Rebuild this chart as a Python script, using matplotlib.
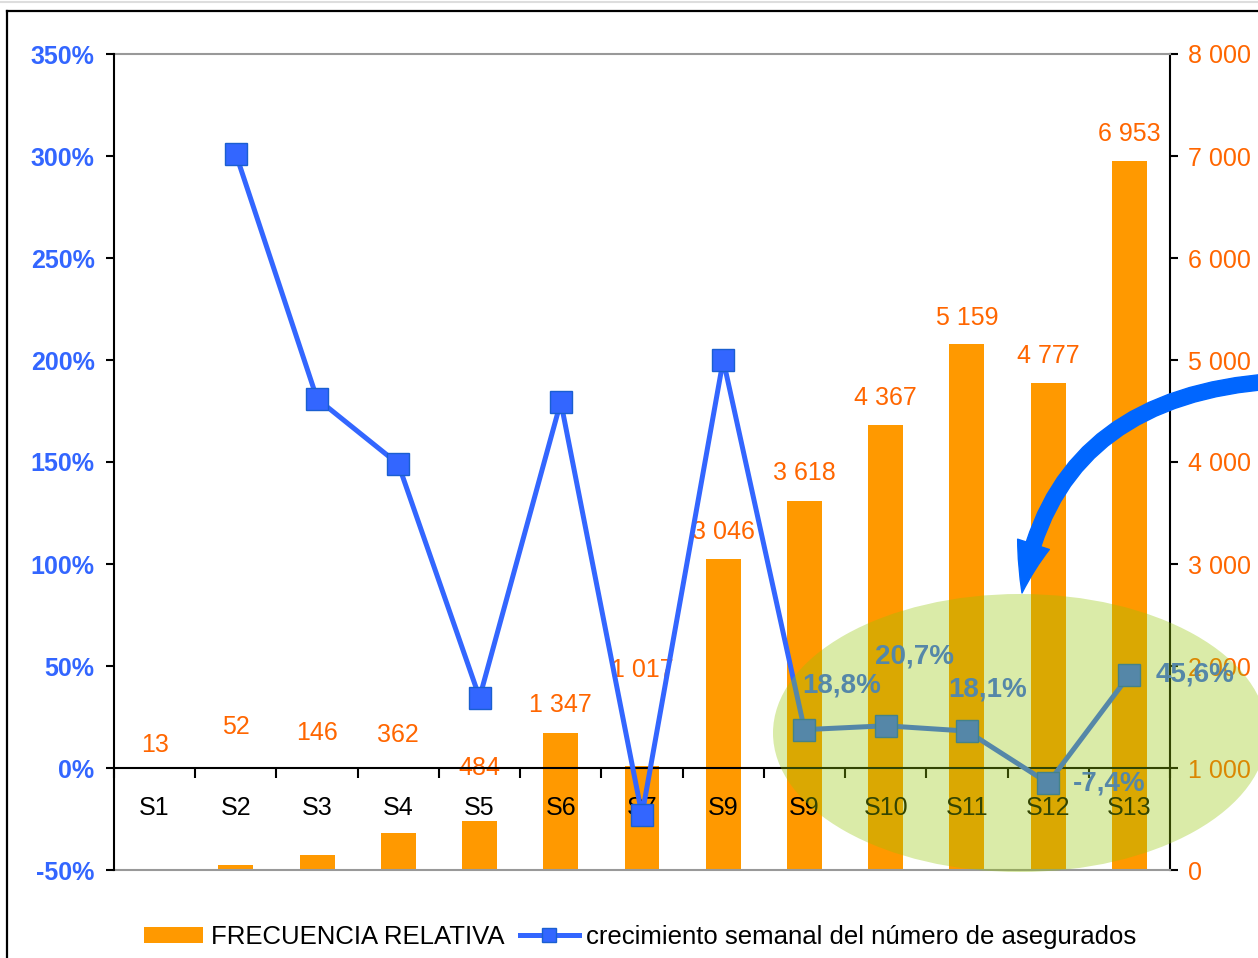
import numpy as np
import matplotlib
matplotlib.use("Agg")
import matplotlib.pyplot as plt
from matplotlib.patches import Ellipse, FancyArrowPatch, Patch
from matplotlib.lines import Line2D
from matplotlib.path import Path
from matplotlib.ticker import FuncFormatter, FixedLocator

plt.rcParams['font.family'] = ['Liberation Sans', 'DejaVu Sans']

# data
weeks = ["S1", "S2", "S3", "S4", "S5", "S6", "S7", "S9", "S9", "S10", "S11", "S12", "S13"]
frecuencia = [13, 52, 146, 362, 484, 1347, 1017, 3046, 3618, 4367, 5159, 4777, 6953]
crecimiento = [np.nan, 301.0, 181.0, 149.0, 34.5, 179.5, -23.0, 200.0, 18.8, 20.7, 18.1, -7.4, 45.6]
# where the bar value labels sit (right axis units)
label_y = [1224, 1400, 1341, 1322, 999, 1615, 1958, 3309, 3897, 4631, 5414, 5042, 7216]
# offsets (points) of the percent labels for the last five weeks
pct_offsets = [(27, 32), (21, 50), (15, 30), (44, 0), (47, 0)]

BLUE = "#3366FF"
ORANGE = "#FF9900"
ORANGE_TXT = "#FF6600"

W, H = 1258, 958
fig = plt.figure(figsize=(W / 100, H / 100), dpi=100)
ax = fig.add_axes([114 / W, 1 - 870 / H, (1170 - 114) / W, (870 - 54) / H])
ax2 = ax.twinx()
# line axis drawn above the bars
ax.set_zorder(ax2.get_zorder() + 1)
ax.patch.set_visible(False)

x = np.arange(len(weeks))

ax2.bar(x, frecuencia, width=0.43, color=ORANGE, zorder=2)
ax2.set_ylim(0, 8000)
ax2.set_yticks(np.arange(0, 8001, 1000))
ax2.yaxis.set_major_formatter(FuncFormatter(lambda v, p: f"{int(v):,}".replace(",", " ")))
ax2.tick_params(axis='y', colors="black", labelcolor=ORANGE_TXT, labelsize=18,
                direction='out', length=6, width=1.5, pad=7)
for i, v in enumerate(frecuencia):
    ax2.text(x[i], label_y[i], f"{v:,}".replace(",", " "), ha='center', va='center',
             color=ORANGE_TXT, fontsize=18, zorder=5)

ax.plot(x, crecimiento, color=BLUE, lw=3.6, marker='s', markersize=16,
        markerfacecolor=BLUE, markeredgecolor="#1a5fd0", markeredgewidth=1, zorder=4)
for k, i in enumerate(range(8, 13)):
    v = crecimiento[i]
    ax.annotate(f"{v:.1f}%".replace(".", ","), (x[i], v), xytext=pct_offsets[k],
                textcoords='offset points', ha='center', va='center',
                color=BLUE, fontsize=20, fontweight='bold', zorder=6)

ax.set_ylim(-50, 350)
ax.set_yticks(np.arange(-50, 351, 50))
ax.yaxis.set_major_formatter(FuncFormatter(lambda v, p: f"{v:.0f}%"))
ax.tick_params(axis='y', colors="black", labelcolor=BLUE, labelsize=18,
               direction='out', length=6, width=1.5, pad=8)
for t in ax.get_yticklabels():
    t.set_fontweight('bold')

ax.set_xlim(-0.5, len(weeks) - 0.5)
ax.xaxis.set_major_locator(FixedLocator(np.arange(-0.5, len(weeks), 1)))
ax.xaxis.set_minor_locator(FixedLocator(x))
ax.set_xticklabels([])
ax.set_xticklabels(weeks, minor=True)
ax.tick_params(axis='x', which='major', direction='out', length=7, width=1.5, color='black')
ax.tick_params(axis='x', which='minor', length=0, pad=20, labelsize=18, labelcolor='black')

ax.spines['bottom'].set_position(('data', 0))
ax.spines['bottom'].set_linewidth(1.5)
ax.spines['left'].set_linewidth(1.5)
ax.spines['right'].set_visible(False)
ax.spines['top'].set_visible(False)
ax2.spines['left'].set_visible(False)
ax2.spines['right'].set_linewidth(1.5)
ax2.spines['top'].set_color("#999999")
ax2.spines['top'].set_linewidth(1.5)
ax2.spines['bottom'].set_color("#999999")
ax2.spines['bottom'].set_linewidth(1.5)


def fpx(px, py):
    # pixel position (from top-left) to figure fraction
    return (px / W, 1 - py / H)


# highlight ellipse and curved arrow
ell = Ellipse(fpx(1020, 733), 494 / W, 278 / H, transform=fig.transFigure,
              facecolor="#95C606", alpha=0.35, edgecolor='none', zorder=10)
fig.add_artist(ell)
arc = Path([fpx(1300, 380), fpx(1055, 385), fpx(1022, 593)],
           [Path.MOVETO, Path.CURVE3, Path.CURVE3])
arrow = FancyArrowPatch(path=arc, transform=fig.transFigure,
                        arrowstyle="simple,head_width=2.4,head_length=3.6,tail_width=1.1",
                        mutation_scale=10, color="#0066FF", zorder=11)
fig.add_artist(arrow)

# outer frame
fig.add_artist(Line2D([7 / W, 7 / W], [0, 1 - 11 / H], transform=fig.transFigure, color='black', lw=1.6))
fig.add_artist(Line2D([7 / W, 1], [1 - 11 / H, 1 - 11 / H], transform=fig.transFigure, color='black', lw=1.6))
fig.add_artist(Line2D([0, 1], [1 - 2 / H, 1 - 2 / H], transform=fig.transFigure, color='#dddddd', lw=1.5))

handles = [Patch(facecolor=ORANGE, edgecolor='none'),
           Line2D([], [], color=BLUE, lw=3.6, marker='s', markersize=10,
                  markerfacecolor=BLUE, markeredgecolor="#1a5fd0")]
fig.legend(handles, ["FRECUENCIA RELATIVA", "crecimiento semanal del número de asegurados"],
           loc='center', bbox_to_anchor=(0.509, 1 - 937 / H), ncol=2, frameon=False,
           fontsize=18.5, handlelength=2.3, handleheight=0.6, handletextpad=0.3,
           columnspacing=0.6)

fig.savefig("out.png", dpi=100)
